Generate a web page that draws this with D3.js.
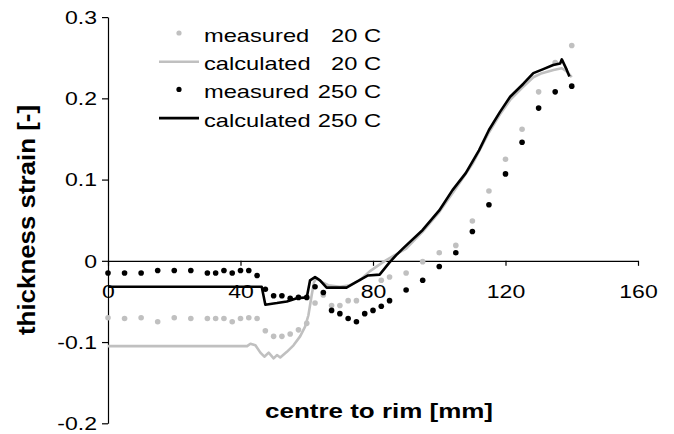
<!DOCTYPE html>
<html><head><meta charset="utf-8">
<script src="https://cdn.jsdelivr.net/npm/d3@7"></script>
<style>
html,body{margin:0;padding:0;background:#fff;}
svg{display:block;font-family:"Liberation Sans",Arial,sans-serif;}
</style></head>
<body>
<svg id="chart" width="674" height="434"></svg>
<script>
// ---- data ----
const xTicks = [0, 40, 80, 120, 160];
const yTicks = [-0.2, -0.1, 0, 0.1, 0.2, 0.3];

const measX = [0,5,10,15,20,25,30,32.5,35,37.5,40,42.5,45,47.5,50,52.5,55,57.5,60,62.5,65,67.5,70,72.5,75,77.5,80,82.5,85,90,95,100,105,110,115,120,125,130,135,140];
const meas20 = [-0.070,-0.071,-0.070,-0.075,-0.070,-0.071,-0.071,-0.071,-0.071,-0.075,-0.071,-0.070,-0.071,-0.086,-0.093,-0.093,-0.090,-0.085,-0.077,-0.052,-0.042,-0.055,-0.055,-0.049,-0.049,null,null,-0.024,-0.020,-0.015,-0.001,0.010,0.019,0.049,0.086,0.125,0.162,0.208,0.244,0.265];
const meas250 = [-0.015,-0.015,-0.015,-0.012,-0.012,-0.012,-0.015,-0.015,-0.012,-0.015,-0.012,-0.012,-0.018,-0.035,-0.043,-0.043,-0.046,-0.045,-0.045,-0.032,-0.039,-0.061,-0.065,-0.071,-0.075,-0.065,-0.061,-0.056,-0.049,-0.036,-0.024,-0.007,0.010,0.036,0.069,0.107,0.146,0.188,0.208,0.215];

const calc20X = [0,42,43,44.5,46,47.2,48.5,50,51,52,54,56,58,59.5,60.5,61.5,62.2,63,64.5,66.5,70,73,76,79,81.5,84,90,95,100,105,110,115,118.3,121.4,125,128.4,131,134.5,137,138.5,140];
const calc20Y = [-0.105,-0.105,-0.102,-0.104,-0.113,-0.118,-0.113,-0.120,-0.116,-0.119,-0.112,-0.104,-0.093,-0.081,-0.067,-0.042,-0.026,-0.021,-0.026,-0.030,-0.032,-0.030,-0.024,-0.013,-0.006,0.001,0.015,0.036,0.060,0.089,0.119,0.158,0.180,0.198,0.213,0.226,0.231,0.235,0.237,0.233,0.226];

const calc250X = [0,46.4,47.5,51,54,57,60,61,62.5,64,66,72,75,78.5,82,85,87,89,95,100,104,108,112,115,118.3,121.4,123.4,125.4,128.4,131.4,134.4,136.5,137,138.5,139.3];
const calc250Y = [-0.032,-0.032,-0.054,-0.052,-0.050,-0.046,-0.045,-0.024,-0.020,-0.024,-0.033,-0.033,-0.026,-0.018,-0.017,-0.002,0.007,0.015,0.038,0.062,0.087,0.108,0.136,0.161,0.183,0.202,0.210,0.218,0.231,0.236,0.241,0.243,0.248,0.235,0.227];

const legendNames = ["measured","calculated","measured","calculated"];
const legendTemps = ["20 C","20 C","250 C","250 C"];
const xTitle = "centre to rim [mm]";
const yTitle = "thickness strain [-]";

// ---- drawing ----
const GREY = "#c0c0c0", BLACK = "#000";
const SX = 1.28;
const svg = d3.select("#chart");
svg.append("rect").attr("width",674).attr("height",434).attr("fill","#fff");

const x = d3.scaleLinear().domain([0,160]).range([108,638]);
const y = d3.scaleLinear().domain([-0.2,0.3]).range([423.3,17.1]);

// axes
const gx = svg.append("g").attr("transform",`translate(0,${y(0)})`)
  .call(d3.axisBottom(x).tickValues(xTicks).tickSize(5).tickSizeOuter(0).tickFormat(d=>String(d)));
gx.selectAll("text").attr("y",24).attr("dy","0.71em")
  .attr("transform",`scale(${SX},1)`).style("font-size","18px").attr("fill","#000");

const gy = svg.append("g").attr("transform",`translate(${x(0)},0)`)
  .call(d3.axisLeft(y).tickValues(yTicks).tickSize(6).tickSizeOuter(0).tickFormat(d=>Math.abs(d)<1e-9?"0":d.toFixed(1)));
gy.selectAll("text").attr("x",-11/SX).attr("dy","0.35em")
  .attr("transform",`scale(${SX},1)`).style("font-size","18px").attr("fill","#000");
svg.selectAll(".domain, .tick line").attr("stroke","#000").attr("stroke-width",1.2);

// data
const line = d3.line().x(d=>x(d[0])).y(d=>y(d[1]));
const m20 = measX.map((v,i)=>[v,meas20[i]]).filter(d=>d[1]!==null);
const m250 = measX.map((v,i)=>[v,meas250[i]]);
const c20 = calc20X.map((v,i)=>[v,calc20Y[i]]);
const c250 = calc250X.map((v,i)=>[v,calc250Y[i]]);

svg.append("g").selectAll("circle").data(m20).join("circle")
  .attr("cx",d=>x(d[0])).attr("cy",d=>y(d[1])).attr("r",2.8).attr("fill",GREY);
svg.append("path").datum(c20).attr("d",line).attr("fill","none")
  .attr("stroke",GREY).attr("stroke-width",2.6).attr("stroke-linejoin","round");
svg.append("g").selectAll("circle").data(m250).join("circle")
  .attr("cx",d=>x(d[0])).attr("cy",d=>y(d[1])).attr("r",2.8).attr("fill",BLACK);
svg.append("path").datum(c250).attr("d",line).attr("fill","none")
  .attr("stroke",BLACK).attr("stroke-width",2.6).attr("stroke-linejoin","round");

// legend
const legStyles = [
  {type:"dot",color:GREY},{type:"line",color:GREY},
  {type:"dot",color:BLACK},{type:"line",color:BLACK}];
legendNames.forEach((name,i)=>{
  const base = 42 + i*28.2;
  const g = svg.append("g");
  const st = legStyles[i];
  if(st.type==="dot"){
    g.append("circle").attr("cx",179).attr("cy",base-9).attr("r",2.6).attr("fill",st.color);
  } else {
    g.append("line").attr("x1",159).attr("x2",199).attr("y1",base-8.5).attr("y2",base-8.5)
      .attr("stroke",st.color).attr("stroke-width",2.6);
  }
  g.append("text").attr("transform",`translate(204,${base}) scale(${SX},1)`)
    .style("font-size","18.5px").text(name);
  g.append("text").attr("transform",`translate(381,${base}) scale(${SX},1)`)
    .attr("text-anchor","end").style("font-size","18.5px").text(legendTemps[i]);
});

// titles
svg.append("text").attr("x",379).attr("y",418).attr("text-anchor","middle")
  .style("font-size","19.5px").style("font-weight","bold")
  .attr("textLength",228).attr("lengthAdjust","spacingAndGlyphs").text(xTitle);
svg.append("text").attr("transform","translate(35,220) rotate(-90)").attr("text-anchor","middle")
  .style("font-size","24px").style("font-weight","bold")
  .attr("textLength",230).attr("lengthAdjust","spacingAndGlyphs").text(yTitle);
</script>
</body></html>
